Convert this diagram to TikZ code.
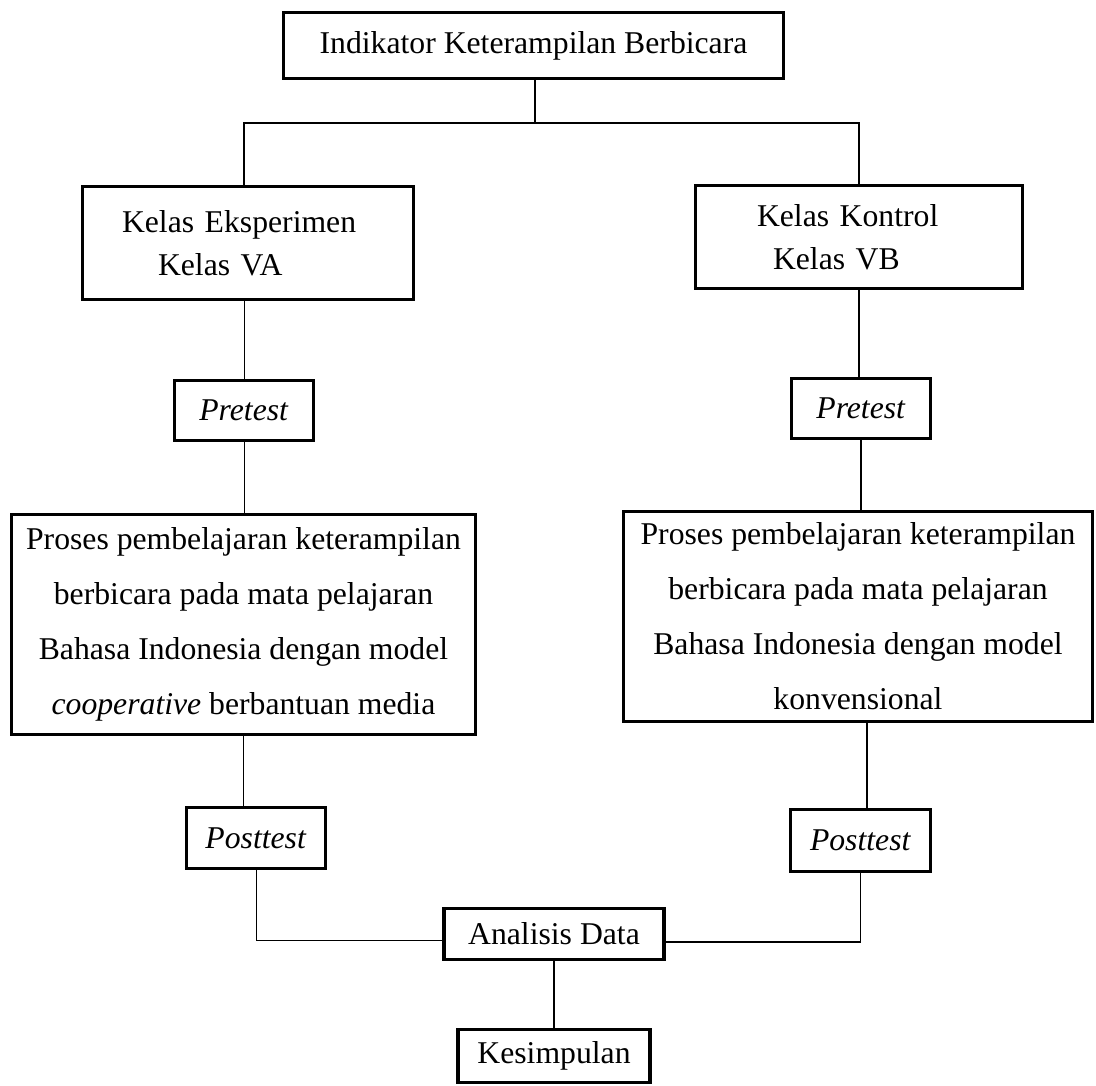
\documentclass[tikz,border=0pt]{standalone}
\usepackage{fontspec}
\setmainfont{Liberation Serif}
\tikzstyle{kotak} = [rectangle, draw, line width=3.5pt, inner sep=0pt, text centered, font=\fontsize{31.7}{43}\selectfont]
\tikzstyle{kotakproses} = [kotak, align=center, font=\fontsize{31.7}{55}\selectfont]
\tikzstyle{garis} = [line width=1.6pt]
\tikzstyle{garistipis} = [line width=1pt]

\begin{document}
\begin{tikzpicture}[x=1pt, y=-1pt]
        \useasboundingbox (0, 0) rectangle (1096, 1086);
        \node[kotak, minimum width=500pt, minimum height=66pt] at (533.5, 45.5) (indikator) {Indikator Keterampilan Berbicara};

        \node[kotak, minimum width=331pt, minimum height=113pt, text width=252pt, align=left] at (248, 243) (eksperimen) {Kelas Eksperimen\\\hspace*{36pt}Kelas VA};
        \node[kotak, minimum width=139pt, minimum height=60pt] at (244, 410.5) (pretestA) {\textit{Pretest}};
        \node[kotakproses, minimum width=464pt, minimum height=220pt] at (243.5, 624.5) (prosesA) {Proses pembelajaran keterampilan\\berbicara pada mata pelajaran\\Bahasa Indonesia dengan model\\\textit{cooperative} berbantuan media};
        \node[kotak, minimum width=139pt, minimum height=61pt] at (256, 838) (posttestA) {\textit{Posttest}};

        \node[kotak, minimum width=327pt, minimum height=103pt, text width=204pt, align=left] at (859, 237) (kontrol) {Kelas Kontrol\\\hspace*{16pt}Kelas VB};
        \node[kotak, minimum width=139pt, minimum height=60pt] at (861, 408.5) (pretestB) {\textit{Pretest}};
        \node[kotakproses, minimum width=469pt, minimum height=210pt] at (858, 616.5) (prosesB) {Proses pembelajaran keterampilan\\berbicara pada mata pelajaran\\Bahasa Indonesia dengan model\\konvensional};
        \node[kotak, minimum width=140pt, minimum height=62pt] at (860.5, 840.5) (posttestB) {\textit{Posttest}};

        \node[kotak, minimum width=220pt, minimum height=51pt] at (554, 934) (analisis) {Analisis Data};
        \node[kotak, minimum width=192pt, minimum height=53pt] at (554, 1056) (kesimpulan) {Kesimpulan};

        \coordinate (cabang) at (535, 123);
        \draw[garis] (indikator.south -| cabang) -- (cabang);
        \draw[garis] (eksperimen.north -| pretestA) |- (cabang) -| (kontrol.north);

        \draw[garistipis] (eksperimen.south -| pretestA) -- (pretestA.north);
        \draw[garistipis] (pretestA.south) -- (pretestA.south |- prosesA.north);
        \draw[garis] (prosesA.south) -- (prosesA.south |- posttestA.north);
        \draw[garistipis] (posttestA.south) |- ([yshift=-6pt]analisis.west);

        \draw[garis] (kontrol.south) -- (kontrol.south |- pretestB.north);
        \draw[garis] (pretestB.south) -- (pretestB.south |- prosesB.north);
        \draw[garis] ([xshift=9pt]prosesB.south) -- ([xshift=9pt]prosesB.south |- posttestB.north);
        \draw[garis] (posttestB.south) |- ([yshift=-8pt]analisis.east);

        \draw[garis] (analisis.south) -- (kesimpulan.north);
    \end{tikzpicture}
\end{document}
